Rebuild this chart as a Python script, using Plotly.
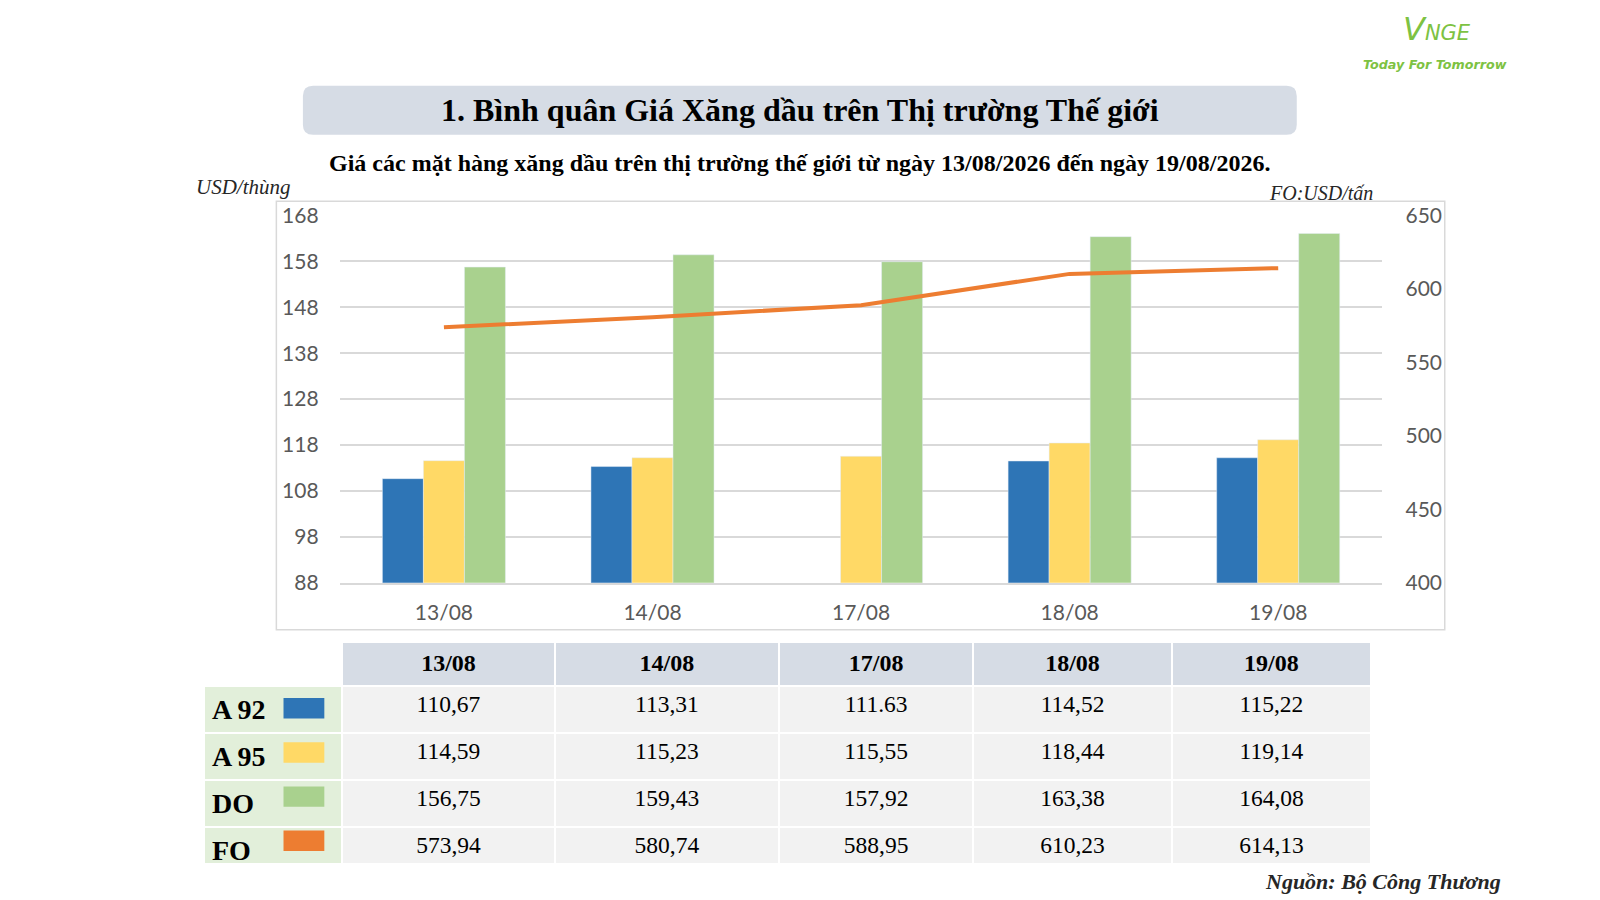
import plotly.graph_objects as go

# dates and prices (chart + table)
dates = ["13/08", "14/08", "17/08", "18/08", "19/08"]
a92 = [110.67, 113.31, 111.63, 114.52, 115.22]
a95 = [114.59, 115.23, 115.55, 118.44, 119.14]
do = [156.75, 159.43, 157.92, 163.38, 164.08]
fo = [573.94, 580.74, 588.95, 610.23, 614.13]
# the source chart has no A92 bar on 17/08
a92_bar = [110.67, 113.31, None, 114.52, 115.22]

series_names = ["A 92", "A 95", "DO", "FO"]
colors = ["#2E75B6", "#FFD966", "#A9D18E", "#ED7D31"]

# where the figure ends up in the screenshot (measured)
FX0, FW = 8, 1568
FY0, FH = 21.4, 857.6
SY = FH / 900  # vertical shrink of the page


def px(x):
    return (x - FX0) / FW


def py(y):
    return 1 - (y - FY0) / FH


def fmt(v):
    return ("%.2f" % v).replace(".", ",")


def rounded_box(x0, y0, x1, y1, r):
    rx, ry = r / FW, r / FH
    X0, X1, Y0, Y1 = px(x0), px(x1), py(y1), py(y0)
    return (
        f"M {X0+rx},{Y0} L {X1-rx},{Y0} Q {X1},{Y0} {X1},{Y0+ry} "
        f"L {X1},{Y1-ry} Q {X1},{Y1} {X1-rx},{Y1} L {X0+rx},{Y1} "
        f"Q {X0},{Y1} {X0},{Y1-ry} L {X0},{Y0+ry} Q {X0},{Y0} {X0+rx},{Y0} Z"
    )


fig = go.Figure()

fig.add_trace(go.Bar(x=dates, y=a92_bar, name="A 92", marker_color=colors[0]))
fig.add_trace(go.Bar(x=dates, y=a95, name="A 95", marker_color=colors[1]))
fig.add_trace(go.Bar(x=dates, y=do, name="DO", marker_color=colors[2]))
fig.add_trace(
    go.Scatter(
        x=dates, y=fo, name="FO", mode="lines", yaxis="y2",
        line=dict(color=colors[3], width=4),
    )
)

# table below the chart
a92_txt = [fmt(v) for v in a92]
a92_txt[2] = "111.63"  # written with a dot in the source
table_cols = [
    ["<b>%s</b>" % n for n in series_names],
] + [
    [a92_txt[i], fmt(a95[i]), fmt(do[i]), fmt(fo[i])] for i in range(len(dates))
]

fig.add_trace(
    go.Table(
        domain=dict(x=[px(200), px(1344)], y=[py(846), py(629)]),
        columnwidth=[135, 207, 219, 189, 194, 194],
        header=dict(
            values=[""] + ["<b>%s</b>" % d for d in dates],
            fill_color=["white"] + ["#D6DCE5"] * 5,
            line=dict(color="white", width=2),
            font=dict(family="Liberation Serif", size=24, color="black"),
            align="center",
            height=42 / SY,
        ),
        cells=dict(
            values=table_cols,
            fill_color=[["#E2EFDA"] * 4] + [["#F2F2F2"] * 4] * 5,
            line=dict(color="white", width=2),
            font=dict(
                family="Liberation Serif",
                size=[28, 23.5, 23.5, 23.5, 23.5, 23.5],
                color="black",
            ),
            align=["left", "center"],
            height=42.2 / SY,
        ),
    )
)

shapes = [
    # title box
    dict(type="path", xref="paper", yref="paper",
         path=rounded_box(297, 84, 1271, 132, 10),
         fillcolor="#D6DCE5", line=dict(width=0), layer="below"),
    # chart border
    dict(type="rect", xref="paper", yref="paper",
         x0=px(271), x1=px(1416), y0=py(617), y1=py(197),
         line=dict(color="#D9D9D9", width=1.5), layer="below"),
]
# colour keys in the table
for k, c in enumerate(colors):
    top = 684 + 43.3 * k
    shapes.append(
        dict(type="rect", xref="paper", yref="paper",
             x0=px(278), x1=px(318), y0=py(top + 20), y1=py(top),
             fillcolor=c, line=dict(width=0))
    )

serif = "Liberation Serif"
green = "#7DC242"
annotations = [
    dict(text="<b>1. Bình quân Giá Xăng dầu trên Thị trường Thế giới</b>",
         x=px(784), y=py(108), font=dict(family=serif, size=32, color="black")),
    dict(text="<b>Giá các mặt hàng xăng dầu trên thị trường thế giới từ ngày "
              "13/08/2026 đến ngày 19/08/2026.</b>",
         x=px(784), y=py(160), font=dict(family=serif, size=24, color="black")),
    dict(text="<i>USD/thùng</i>", x=px(190), y=py(183), xanchor="left",
         font=dict(family=serif, size=21, color="#262626")),
    dict(text="<i>FO:USD/tấn</i>", x=px(1348), y=py(189), xanchor="right",
         font=dict(family=serif, size=20, color="#262626")),
    dict(text="<b><i>Nguồn: Bộ Công Thương</i></b>", x=px(1473), y=py(864),
         xanchor="right", font=dict(family=serif, size=22, color="#262626")),
    # logo
    dict(text="<i><span style='font-size:32px'>V</span>NGE</i>",
         x=px(1408), y=py(28),
         font=dict(family="DejaVu Sans", size=21, color=green)),
    dict(text="<b><i>Today For Tomorrow</i></b>", x=px(1406), y=py(63),
         font=dict(family="DejaVu Sans", size=12.7, color=green)),
]
for a in annotations:
    a.setdefault("xref", "paper")
    a.setdefault("yref", "paper")
    a.setdefault("showarrow", False)
    a.setdefault("xanchor", "center")
    a.setdefault("yanchor", "middle")

tick_font = dict(family="Lato", size=21, color="#595959")

fig.update_layout(
    width=1600,
    height=900,
    margin=dict(l=0, r=0, t=0, b=0),
    paper_bgcolor="white",
    plot_bgcolor="white",
    showlegend=False,
    barmode="group",
    bargap=0.41,
    bargroupgap=0,
    xaxis=dict(
        domain=[px(333), px(1355)],
        showgrid=False,
        showline=True,
        linecolor="#D9D9D9",
        linewidth=1.5,
        tickfont=tick_font,
        ticklabelstandoff=10,
    ),
    yaxis=dict(
        domain=[py(571), py(211)],
        range=[88, 168],
        dtick=10,
        tick0=88,
        showgrid=True,
        gridcolor="#D9D9D9",
        gridwidth=1.5,
        zeroline=False,
        tickfont=tick_font,
        ticklabelstandoff=20,
    ),
    yaxis2=dict(
        overlaying="y",
        side="right",
        range=[400, 650],
        dtick=50,
        showgrid=False,
        zeroline=False,
        tickfont=tick_font,
        ticklabelstandoff=22,
    ),
    shapes=shapes,
    annotations=annotations,
)

fig.write_html("out.html")
